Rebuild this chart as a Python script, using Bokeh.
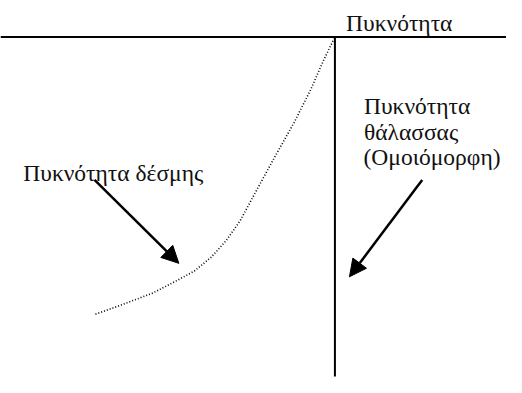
from bokeh.plotting import figure
from bokeh.models import ColumnDataSource, Arrow, NormalHead, Range1d
from bokeh.core.properties import value
from bokeh.embed import file_html
from bokeh.resources import INLINE

# Beam density profile (dotted curve), in picture coordinates
beam_density = [98, 123, 157, 180, 200, 217, 233, 247, 263, 283, 303, 320, 333, 344]
beam_depth = [327, 318, 305, 293, 282, 268, 250, 230, 200, 163, 127, 93, 63, 40]

# Uniform sea density (vertical line) and surface/density axis (horizontal line)
sea_density = [345, 345]
sea_depth = [38, 392]
surface_x = [0, 522]
surface_y = [38, 38]

# Labels
label_text = ["Πυκνότητα", "Πυκνότητα δέσμης", "Πυκνότητα", "θάλασσας", "(Ομοιόμορφη)"]
label_x = [356.5, 23.5, 375, 375, 374.5]
label_y = [23.3, 179.3, 110, 136.7, 162.7]

# Arrows
arrow_x_start = [97, 435]
arrow_y_start = [187, 187]
arrow_x_end = [184, 360]
arrow_y_end = [274, 288]

W, H = 506, 377
p = figure(width=W, height=H, output_backend="svg", toolbar_location=None,
           x_range=Range1d(0, 522), y_range=Range1d(393, 0),
           min_border=0, outline_line_color=None)
p.axis.visible = False
p.grid.visible = False
p.background_fill_color = "white"
p.border_fill_color = "white"

p.line(surface_x, surface_y, line_color="black", line_width=2)
p.line(sea_density, sea_depth, line_color="black", line_width=2)
p.line(beam_density, beam_depth, line_color="black", line_width=1.6, line_dash="1 2")

src = ColumnDataSource(dict(x=label_x, y=label_y, t=label_text))
p.text(x="x", y="y", text="t", source=src, text_font=value("Liberation Serif"),
       text_font_size="23.5px", text_color="#111111", text_baseline="alphabetic",
       text_align="left")

asrc = ColumnDataSource(dict(x0=arrow_x_start, y0=arrow_y_start, x1=arrow_x_end, y1=arrow_y_end))
p.add_layout(Arrow(end=NormalHead(size=17, fill_color="black", line_color="black"),
                   x_start="x0", y_start="y0", x_end="x1", y_end="y1",
                   line_width=2.5, line_color="black", source=asrc))

open("out.html", "w").write(file_html(p, INLINE))
